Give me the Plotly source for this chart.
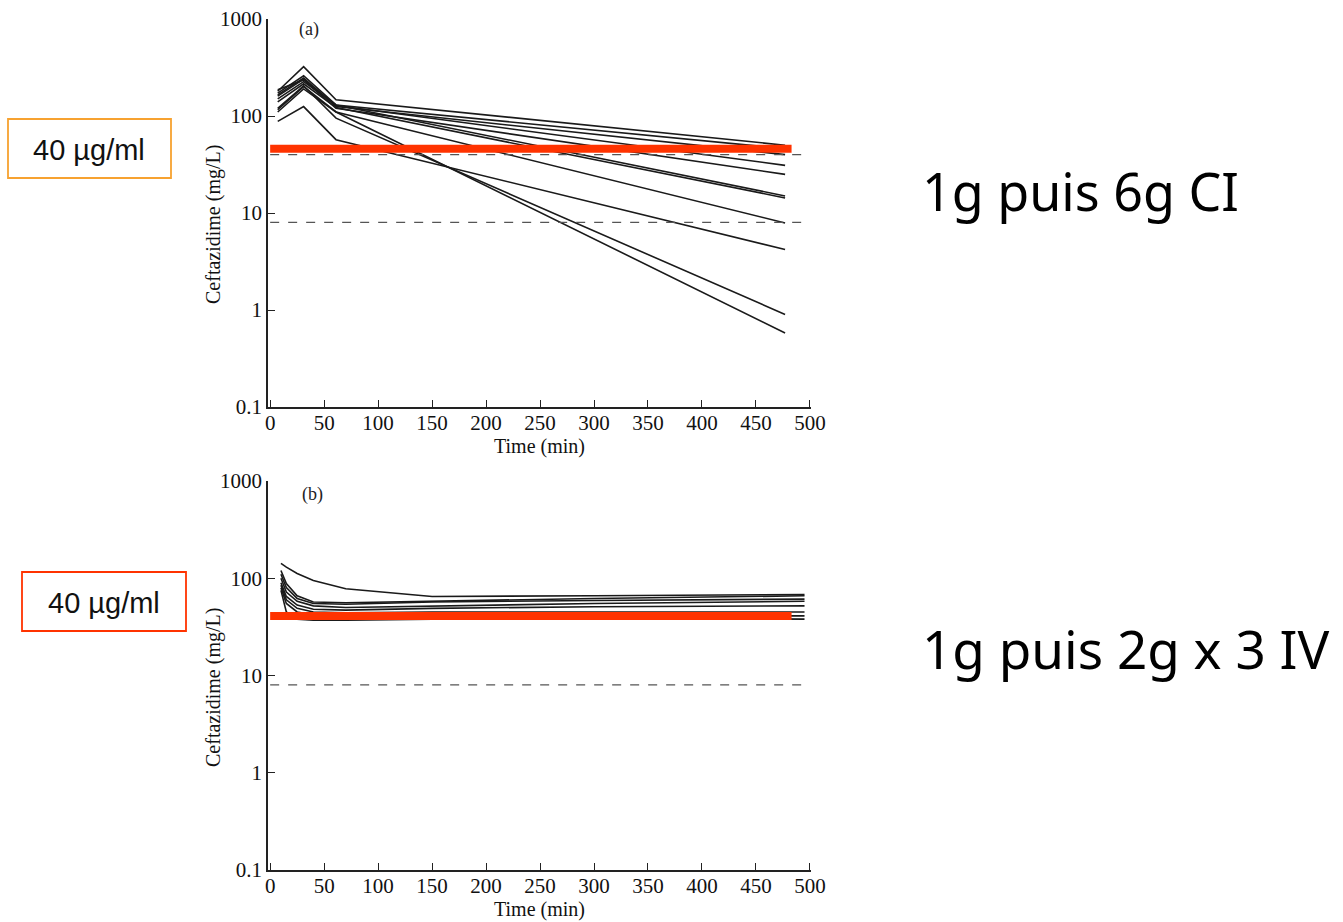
import plotly.graph_objects as go

W, H = 1343, 922

# ---------------- data ----------------
# Panel (a): 1 g then 6 g continuous infusion
time_a = [7, 31, 61, 477]
curves_a = [
    [180, 323, 147, 50],
    [172, 260, 130, 46],
    [165, 247, 125, 40],
    [160, 240, 128, 31],
    [186, 235, 120, 25],
    [150, 226, 130, 15],
    [140, 215, 122, 14.3],
    [116, 201, 110, 7.9],
    [120, 205, 95, 0.9],
    [110, 190, 110, 0.58],
    [88, 125, 57, 4.2],
]
# Panel (b): 1 g then 2 g x 3 IV
time_b = [10, 15, 25, 40, 70, 150, 300, 495]
curves_b = [
    [142, 130, 112, 95, 78, 65, 66, 68],
    [120, 88, 66, 57, 56, 58, 62, 66],
    [110, 80, 62, 55, 54, 57, 59, 61],
    [100, 72, 58, 52, 50, 52, 55, 58],
    [90, 65, 53, 48, 47, 49, 51, 52],
    [85, 60, 49, 45, 44, 45, 45, 45],
    [80, 55, 45, 42, 42, 42, 41, 41],
    [75, 45, 38, 37, 37, 38, 39, 38],
]
mic_levels_a = [40, 8]
mic_levels_b = [8]
target_a = 46
target_b = 41
target_span = [0, 483]
dash_span = [0, 500]

x_ticks = [0, 50, 100, 150, 200, 250, 300, 350, 400, 450, 500]
y_ticks = [0.1, 1, 10, 100, 1000]
y_ticktext = ["0.1", "1", "10", "100", "1000"]

x_title = "Time (min)"
y_title = "Ceftazidime (mg/L)"
box_label = "40 µg/ml"
regimen_a = "1g puis 6g CI"
regimen_b = "1g puis 2g x 3 IV"

# ---------------- figure ----------------
fig = go.Figure()
LINE = dict(color="#1a1a1a", width=1.6)
DASH = dict(color="#555555", width=1.3, dash="dash")
RED = "#ff3300"

def add_panel(times, curves, mics, target, xa, ya):
    for c in curves:
        fig.add_trace(go.Scatter(x=times, y=c, mode="lines", line=LINE,
                                 xaxis=xa, yaxis=ya, hoverinfo="skip"))
    for m in mics:
        fig.add_trace(go.Scatter(x=dash_span, y=[m, m], mode="lines", line=DASH,
                                 xaxis=xa, yaxis=ya, hoverinfo="skip"))
    fig.add_trace(go.Scatter(x=target_span, y=[target, target], mode="lines",
                             line=dict(color=RED, width=8),
                             xaxis=xa, yaxis=ya, hoverinfo="skip"))

add_panel(time_a, curves_a, mic_levels_a, target_a, "x", "y")
add_panel(time_b, curves_b, mic_levels_b, target_b, "x2", "y2")

SERIF = "Liberation Serif"
tickfont = dict(family=SERIF, size=21, color="#111")
titlefont = dict(family=SERIF, size=20, color="#111")

def xaxis(anchor):
    return dict(domain=[268 / W, 811 / W], anchor=anchor, range=[-2, 501],
                tickvals=x_ticks, ticks="inside", ticklen=7, tickwidth=1.3,
                tickcolor="#222", showline=True, linecolor="#222", linewidth=1.6,
                showgrid=False, zeroline=False, tickfont=tickfont, automargin=False,
                ticklabelstandoff=-4,
                title=dict(text=x_title, font=titlefont, standoff=5))

def yaxis(anchor, dom):
    return dict(domain=dom, anchor=anchor, type="log", range=[-1, 3],
                tickvals=y_ticks, ticktext=y_ticktext, ticks="inside", ticklen=7,
                tickwidth=1.3, tickcolor="#222", showline=True, linecolor="#222",
                linewidth=1.6, showgrid=False, zeroline=False, tickfont=tickfont,
                automargin=False)

fig.update_layout(
    width=W, height=H, margin=dict(l=0, r=0, t=0, b=0, autoexpand=False),
    paper_bgcolor="white", plot_bgcolor="white", showlegend=False,
    xaxis=xaxis("y"),
    yaxis=yaxis("x", [1 - 407 / H, 1 - 19 / H]),
    xaxis2=xaxis("y2"),
    yaxis2=yaxis("x2", [1 - 870 / H, 1 - 481 / H]),
)

annotations = [
    dict(text="(a)", x=309 / W, y=1 - 30 / H, font=dict(family=SERIF, size=18, color="#222")),
    dict(text="(b)", x=312 / W, y=1 - 494 / H, font=dict(family=SERIF, size=18, color="#222")),
    dict(text=y_title, x=213 / W, y=1 - 225 / H, textangle=-90, font=titlefont),
    dict(text=y_title, x=213 / W, y=1 - 688 / H, textangle=-90, font=titlefont),
    dict(text=box_label, x=89 / W, y=1 - 150 / H,
         font=dict(family="Liberation Sans", size=29, color="#111")),
    dict(text=box_label, x=104 / W, y=1 - 603 / H,
         font=dict(family="Liberation Sans", size=29, color="#111")),
    dict(text=regimen_a, x=920 / W, y=1 - 190 / H, xanchor="left",
         font=dict(family="Noto Sans", size=52, color="#000")),
    dict(text=regimen_b, x=920 / W, y=1 - 648 / H, xanchor="left",
         font=dict(family="Noto Sans", size=53, color="#000")),
]
for a in annotations:
    a.setdefault("xanchor", "center")
    a.update(xref="paper", yref="paper", yanchor="middle", showarrow=False)
fig.update_layout(annotations=annotations)

fig.update_layout(shapes=[
    dict(type="rect", xref="paper", yref="paper",
         x0=8 / W, x1=171 / W, y0=1 - 178 / H, y1=1 - 119 / H,
         line=dict(color="#f7a230", width=1.8)),
    dict(type="rect", xref="paper", yref="paper",
         x0=22 / W, x1=186 / W, y0=1 - 631 / H, y1=1 - 572 / H,
         line=dict(color="#ff3300", width=1.8)),
])

fig.write_html("out.html")
